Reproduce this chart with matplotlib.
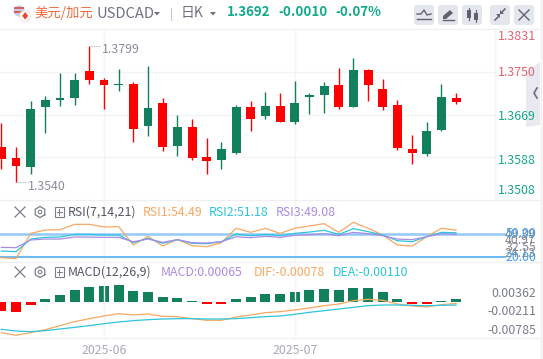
import matplotlib
matplotlib.use('Agg')
import matplotlib.pyplot as plt
import numpy as np
from matplotlib.patches import FancyBboxPatch, Circle, Polygon, Rectangle

plt.rcParams['font.family'] = ['Noto Sans CJK SC', 'DejaVu Sans']

W = 543
H = 359

# candles (daily), red = up, green = down
opens = [1.35842, 1.35708, 1.36795, 1.36966, 1.37004, 1.37348, 1.37348, 1.37252, 1.37271, 1.36414, 1.36814,
         1.36071, 1.36452, 1.35861, 1.35804, 1.36032, 1.36833, 1.36604, 1.36852, 1.36547, 1.36909,
         1.37062, 1.37233, 1.36833, 1.37538, 1.37252, 1.36833, 1.36051, 1.35956, 1.36375, 1.37024, 1.36928]
closes = [1.36071, 1.35861, 1.35689, 1.36833, 1.36966, 1.37004, 1.37519, 1.37348, 1.37252, 1.37271, 1.36471,
          1.36909, 1.36090, 1.36452, 1.35880, 1.35823, 1.35956, 1.36833, 1.36661, 1.36852, 1.36547,
          1.37024, 1.37062, 1.37252, 1.36833, 1.37538, 1.37176, 1.36871, 1.36032, 1.35937, 1.36395, 1.37004]
highs = [1.36528, 1.36071, 1.36947, 1.37043, 1.37481, 1.37481, 1.3799, 1.37386, 1.37557, 1.37309, 1.37614,
         1.37004, 1.36680, 1.36604, 1.36242, 1.36166, 1.36871, 1.36947, 1.37119, 1.37100, 1.37328,
         1.37100, 1.37309, 1.37576, 1.37767, 1.37557, 1.37367, 1.36966, 1.36299, 1.36547, 1.37271, 1.37100]
lows = [1.35651, 1.3540, 1.35556, 1.36337, 1.36852, 1.36871, 1.37271, 1.36795, 1.37138, 1.36166, 1.36280,
        1.35994, 1.35899, 1.35823, 1.35556, 1.35651, 1.35937, 1.36375, 1.36604, 1.36547, 1.36509,
        1.36699, 1.36719, 1.36795, 1.36833, 1.36947, 1.36776, 1.36013, 1.35746, 1.35899, 1.36375, 1.36890]

rsi1 = [19.1, 17.9, 50.4, 54.7, 55.1, 62, 62, 58.6, 59, 35.4, 46.6, 34.1, 42.7, 34.6, 33.3, 38.4, 56.9, 51.7, 56.9,
        50.4, 56.9, 59.9, 62.9, 51.7, 64.6, 56.9, 48.3, 35.4, 34.1, 46.1, 56.9, 54.49]
rsi2 = [27.7, 26.9, 43.1, 45.3, 45.7, 49.1, 49.1, 48.3, 48.3, 38.4, 44, 37.6, 42.3, 37.6, 37.1, 39.7, 49.6, 47.4, 49.1,
        47.4, 50.4, 52.1, 54.3, 49.1, 56.4, 52.6, 48.3, 41, 39.7, 46.1, 51.7, 51.18]
rsi3 = [32.4, 32, 41.9, 43.1, 43.1, 45.7, 45.7, 45.3, 45.3, 39.7, 43.1, 38.9, 42.3, 38.4, 38, 39.7, 46.1, 44.9, 46.6,
        45.3, 47.9, 48.7, 50, 47.4, 51.7, 50, 47.4, 43.1, 42.3, 46.1, 50, 49.08]

dif = [-.00869, -.00954, -.00869, -.00774, -.00647, -.00519, -.00424, -.00339, -.00265, -.00307, -.00276,
       -.00350, -.00360, -.00424, -.00477, -.00477, -.00371, -.00307, -.00233, -.00201, -.00148,
       -.00085, -.00011, .00042, .00148, .00191, .00159, .00042, -.00021, -.00053, .00021, .00064]
dea = [-.00763, -.00816, -.00837, -.00806, -.00753, -.00700, -.00647, -.00583, -.00530, -.00488, -.00456,
       -.00435, -.00424, -.00424, -.00435, -.00435, -.00424, -.00392, -.00360, -.00339, -.00286,
       -.00223, -.00170, -.00117, -.00064, -.00011, .00011, .00011, 0, -.00011, 0, .00011]
hist = [-.00188, -.00217, -.00065, .00065, .00152, .0026, .00325, .00347, .00368, .00238, .00217,
        .00108, .00087, .0002, -.00043, -.00043, .00065, .00108, .00173, .00173, .00217,
        .0026, .00282, .0026, .00303, .00303, .00217, .00065, -.00043, -.00043, .00022, .00065]

date_ticks = [7, 20]
date_labels = ['2025-06', '2025-07']
price_grid = [1.3750, 1.3669, 1.3588]
price_labels = ['1.3831', '1.3750', '1.3669', '1.3588', '1.3508']
rsi_ticks = [49.39, 40.97, 32.55, 24.13]
rsi_levels = [50.00, 20.00]
macd_ticks = [0.00362, -0.00211, -0.00785]

RED = '#ff0000'
GREEN = '#12805c'
ORANGE = '#f5a962'
CYAN = '#2cc5dc'
PURPLE = '#a98be6'
TEAL = '#14a98b'
GRID = '#f4f4f6'
GRAY = '#7a7d8a'
fs = 8.9

fig = plt.figure(figsize=(W / 100, H / 100), dpi=100, facecolor='white')


def px_axes(x0, y0, x1, y1):
    a = fig.add_axes([x0 / W, 1 - y1 / H, (x1 - x0) / W, (y1 - y0) / H])
    a.set_xlim(-0.089, 33.65)
    for s in a.spines.values():
        s.set_visible(False)
    a.set_xticks(date_ticks)
    a.set_xticklabels([])
    a.set_yticks([])
    a.tick_params(length=0)
    a.grid(axis='x', color=GRID, lw=1)
    a.set_axisbelow(True)
    a.patch.set_alpha(0)
    return a


x = np.arange(len(opens))
opens_a = np.array(opens)
closes_a = np.array(closes)

# main candle panel
ax = px_axes(0, 29, 495, 200)
ax.set_ylim(1.35060, 1.38320)
ax.set_yticks(price_grid)
ax.set_yticklabels([])
ax.grid(axis='y', color=GRID, lw=1)
cols = [RED if c >= o else GREEN for o, c in zip(opens, closes)]
ax.vlines(x, lows, highs, colors=cols, lw=1.0)
ax.bar(x, np.abs(closes_a - opens_a), bottom=np.minimum(opens_a, closes_a), width=0.61, color=cols)

ax.annotate('1.3799', xy=(6, 1.3799), xytext=(13, -3), textcoords='offset pixels', fontsize=fs, color='#8b8e9a',
            va='center', ha='left')
ax.annotate('1.3540', xy=(1, 1.3540), xytext=(12, -4), textcoords='offset pixels', fontsize=fs, color='#8b8e9a',
            va='center', ha='left')
ax.plot([6.1, 6.8], [1.3799, 1.3799], color='#8b8e9a', lw=0.7, ls=':')
ax.plot([1.1, 1.8], [1.3540, 1.3540], color='#8b8e9a', lw=0.7, ls=':')

# rsi panel
ax2 = px_axes(0, 201, 495, 262)
ax2.set_ylim(13.6, 92)
ax2.plot(x, rsi1, color=ORANGE, lw=0.9)
ax2.plot(x, rsi2, color=CYAN, lw=0.9)
ax2.plot(x, rsi3, color=PURPLE, lw=0.9)
ax2.axhline(rsi_levels[0], xmax=505 / 495, color='#93c9f8', lw=1.8, clip_on=False, zorder=1)
ax2.axhline(rsi_levels[1], xmax=505 / 495, color='#5db4f5', lw=1.3, clip_on=False, zorder=1)
for v in rsi_ticks:
    ax2.annotate('%.2f' % v, xy=(1, v), xycoords=ax2.get_yaxis_transform(), xytext=(41, 0),
                 textcoords='offset pixels', ha='right', va='center', fontsize=fs, color='#85878f', annotation_clip=False)
for v in rsi_levels:
    ax2.annotate('%.2f' % v, xy=(1, v), xycoords=ax2.get_yaxis_transform(), xytext=(41, 0),
                 textcoords='offset pixels', ha='right', va='center', fontsize=fs, color='#3f9df0', annotation_clip=False)

# macd panel, bars have their own scale
ax3 = px_axes(0, 262, 495, 338)
ax3.set_ylim(-.01039, .01378)
ax3.set_xticklabels(date_labels, fontsize=fs, color='#a9abb8')
ax3.tick_params(axis='x', pad=4)
ax3b = ax3.twinx()
ax3b.set_ylim(-.0078, .00866)
ax3b.set_yticks([])
for s in ax3b.spines.values():
    s.set_visible(False)
ax3b.bar(x, hist, width=0.68, color=[RED if h < 0 else GREEN for h in hist], zorder=2)
ax3.set_zorder(ax3b.get_zorder() + 1)
ax3.plot(x, dif, color=ORANGE, lw=0.9)
ax3.plot(x, dea, color=CYAN, lw=0.9)
for v in macd_ticks:
    ax3.annotate('%.5f' % v, xy=(1, v), xycoords=ax3.get_yaxis_transform(), xytext=(41, 0),
                 textcoords='offset pixels', ha='right', va='center', fontsize=fs, color=GRAY, annotation_clip=False)

# page furniture in pixel coordinates
ov = fig.add_axes([0, 0, 1, 1], zorder=-1)
ov.set_xlim(0, W)
ov.set_ylim(H, 0)
ov.axis('off')
top = fig.add_axes([0, 0, 1, 1], zorder=10)
top.set_xlim(0, W)
top.set_ylim(H, 0)
top.axis('off')
top.patch.set_alpha(0)

for yy in [29, 200, 262, 338]:
    ov.plot([0, 540], [yy, yy], color='#f0f0f3', lw=1)
ov.plot([495, 495], [29, 200], color=GRID, lw=1)
ov.plot([540.5, 540.5], [0, 359], color='#efeff2', lw=1)

# collapse handle
top.add_patch(Polygon([[526, 73], [540, 62], [540, 125], [526, 127]], closed=True, color='#e9e9ef', zorder=0, lw=0))
top.plot([537, 534, 537], [88, 93, 98], color='#6a6c7a', lw=1.2)

# price labels, the outer two are pushed inside the panel
label_y = [37, 73, 116, 160, 191]
label_c = ['#e0626e', '#e0626e', TEAL, TEAL, TEAL]
for t, yy, c in zip(price_labels, label_y, label_c):
    top.text(536, yy, t, color=c, fontsize=fs, ha='right', va='center')

# header
top.add_patch(Circle((19, 11), 5.5, color='#c9cbe0', lw=0))
top.add_patch(Rectangle((14, 7), 10, 1.5, color='#d8605f', lw=0))
top.add_patch(Rectangle((14, 11), 10, 1.5, color='#d8605f', lw=0))
top.add_patch(Circle((25, 16), 5.5, color='white', ec='#f2d0cc', lw=0.5))
top.text(25, 16, '♦', color='#e8432f', fontsize=6, ha='center', va='center')
top.text(34, 13, '美元/加元', color='#f4683c', fontsize=9.6, ha='left', va='center')
top.text(96, 14, 'USDCAD', color='#6f7280', fontsize=10.6, ha='left', va='center')
top.add_patch(Polygon([[154, 12], [160, 12], [157, 15.5]], color='#6f7280', lw=0))
top.plot([171, 171], [8, 20], color='#c6c8d0', lw=0.8)
top.text(181, 12.5, '日K', color='#6f7280', fontsize=10, ha='left', va='center')
top.add_patch(Polygon([[210, 12], [216, 12], [213, 15.5]], color='#6f7280', lw=0))
top.text(227, 12.5, '1.3692', color=TEAL, fontsize=9.6, fontweight='bold', ha='left', va='center')
top.text(278, 12.5, '-0.0010', color=TEAL, fontsize=9.6, fontweight='bold', ha='left', va='center')
top.text(335, 12.5, '-0.07%', color=TEAL, fontsize=9.6, fontweight='bold', ha='left', va='center')

# buttons
for bx in [414, 438, 462, 490, 514]:
    top.add_patch(FancyBboxPatch((bx + 2, 7), 16, 16, boxstyle='round,pad=2,rounding_size=3', color='#e4e6ee', lw=0))
ic = '#5f6170'
top.plot([417, 421, 424, 427, 431], [14, 14, 10, 15, 14], color=ic, lw=1)
top.plot([417, 431], [19, 19], color=ic, lw=1)
top.add_patch(Polygon([[443, 19], [443, 16], [450, 10], [453, 13], [446, 19]], color=ic, lw=0))
top.plot([443, 454], [20, 20], color=ic, lw=1)
top.add_patch(Rectangle((467, 10), 4, 8, color=ic, lw=0))
top.add_patch(Rectangle((474, 13), 4, 7, color=ic, lw=0))
top.plot([469, 469], [8, 20], color=ic, lw=0.8)
top.plot([476, 476], [10, 22], color=ic, lw=0.8)
top.plot([495, 498], [20, 17], color=ic, lw=1.1)
top.plot([501, 505], [13, 9], color=ic, lw=1.1)
top.add_patch(Polygon([[496, 14], [500, 14], [500, 18]], color=ic, lw=0))
top.add_patch(Polygon([[500, 14], [504, 14], [500, 10]], color=ic, lw=0))
top.plot([519, 529], [10, 20], color=ic, lw=1)
top.plot([529, 519], [10, 20], color=ic, lw=1)


def tool_row(yy):
    top.plot([15, 25], [yy - 5, yy + 5], color=GRAY, lw=0.9)
    top.plot([25, 15], [yy - 5, yy + 5], color=GRAY, lw=0.9)
    a = np.deg2rad(np.arange(30, 391, 60))
    top.plot(40 + 5.5 * np.cos(a), yy + 5.5 * np.sin(a), color=GRAY, lw=0.9)
    top.add_patch(Circle((40, yy), 1.8, fill=False, ec=GRAY, lw=0.8))
    top.add_patch(Rectangle((54.5, yy - 5), 9.5, 10, fill=False, ec=GRAY, lw=0.8))
    top.plot([56.5, 62], [yy, yy], color=GRAY, lw=0.7)
    top.plot([59.2, 59.2], [yy - 3, yy + 3], color=GRAY, lw=0.7)


tool_row(212)
tool_row(272)
top.text(68, 212, 'RSI(7,14,21)', color='#555764', fontsize=fs, va='center')
top.text(143, 212, 'RSI1:54.49', color=ORANGE, fontsize=fs, va='center')
top.text(209, 212, 'RSI2:51.18', color=CYAN, fontsize=fs, va='center')
top.text(276, 212, 'RSI3:49.08', color=PURPLE, fontsize=fs, va='center')
top.text(68, 272, 'MACD(12,26,9)', color='#555764', fontsize=fs, va='center')
top.text(161, 272, 'MACD:0.00065', color=PURPLE, fontsize=fs, va='center')
top.text(254, 272, 'DIF:-0.00078', color=ORANGE, fontsize=fs, va='center')
top.text(333, 272, 'DEA:-0.00110', color=CYAN, fontsize=fs, va='center')

fig.savefig('out.png', dpi=100)
